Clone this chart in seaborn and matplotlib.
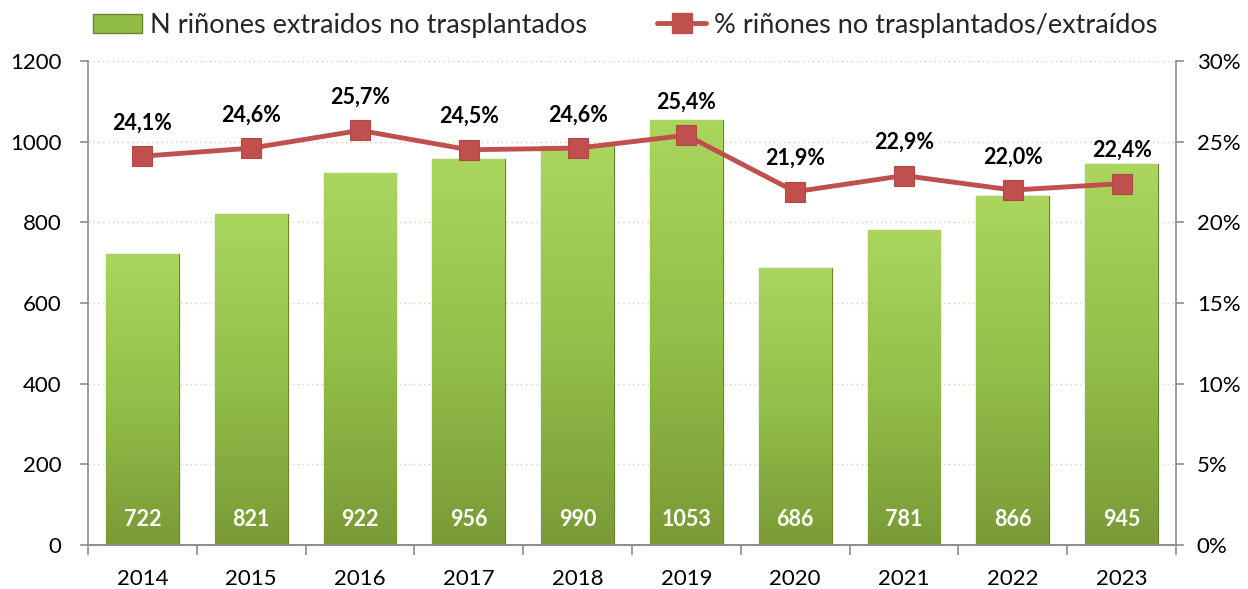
import matplotlib
matplotlib.use("Agg")
import matplotlib.pyplot as plt
import matplotlib.colors as mcolors
from matplotlib.lines import Line2D
from matplotlib.patches import Patch
import numpy as np
import pandas as pd
import seaborn as sns

years = ["2014", "2015", "2016", "2017", "2018", "2019", "2020", "2021", "2022", "2023"]
kidneys = [722, 821, 922, 956, 990, 1053, 686, 781, 866, 945]
pct = [24.1, 24.6, 25.7, 24.5, 24.6, 25.4, 21.9, 22.9, 22.0, 22.4]
bar_label = "N riñones extraidos no trasplantados"
line_label = "% riñones no trasplantados/extraídos"

sns.set_theme(style="white")
plt.rcParams["font.family"] = ["Lato", "DejaVu Sans"]

df = pd.DataFrame({"year": years, "n": kidneys, "pct": pct})

fig = plt.figure(figsize=(12.48, 5.89), dpi=100)
ax = fig.add_axes([0.0705, 0.0747, 0.8718, 0.8217])

bar_color = "#92bd45"
edge_color = "#6a8530"
sns.barplot(data=df, x="year", y="n", ax=ax, color=bar_color, width=0.67,
            edgecolor=edge_color, linewidth=0.9, saturation=1, zorder=2)

# vertical gradient fill for bars
cmap = mcolors.LinearSegmentedColormap.from_list("g", ["#7a9a36", "#93bf4a", "#aad65e"])
grad = np.linspace(0, 1, 256).reshape(-1, 1)
for p in ax.patches:
    x0, y0 = p.get_x(), p.get_y()
    w, h = p.get_width(), p.get_height()
    im = ax.imshow(grad, cmap=cmap, aspect="auto", origin="lower",
                   extent=[x0, x0 + w, y0, y0 + h], zorder=2.1)
    im.set_clip_path(p)

ax.set_xlim(-0.5, len(years) - 0.5)
ax.set_ylim(0, 1200)
ax.set_yticks(range(0, 1201, 200))
ax.set_xlabel("")
ax.set_ylabel("")
ax.yaxis.grid(True, linestyle=(0, (1, 2.5)), color="#d6d0aa", linewidth=1.0, zorder=0)
ax.set_axisbelow(True)

for i, v in enumerate(kidneys):
    ax.text(i, 62, f"{v}", ha="center", va="center", color="white",
            fontsize=15.5, fontweight="bold", zorder=5)

ax2 = ax.twinx()
sns.lineplot(x=np.arange(len(years)), y=pct, ax=ax2, color="#c0504d", linewidth=3.5,
             marker="s", markersize=14, markeredgecolor="#b54743", markeredgewidth=0.8,
             zorder=4)
ax2.set_ylim(0, 30)
ax2.set_yticks(range(0, 31, 5))
ax2.set_yticklabels([f"{t}%" for t in range(0, 31, 5)])
ax2.set_ylabel("")
for i, v in enumerate(pct):
    ax2.annotate(f"{v:.1f}".replace(".", ",") + "%", (i, v), xytext=(0, 24),
                 textcoords="offset points", ha="center", va="center",
                 fontsize=15.5, fontweight="bold", color="black")

spine_c = "#8c8c8c"
for a in (ax, ax2):
    a.spines["top"].set_visible(False)
    for s in ("left", "right", "bottom"):
        a.spines[s].set_color(spine_c)
        a.spines[s].set_linewidth(1.2)
ax.spines["right"].set_visible(False)
ax2.spines["left"].set_visible(False)

ax.tick_params(axis="y", which="major", direction="out", length=6, color=spine_c,
               width=1.2, labelsize=16, labelcolor="black", left=True, pad=13)
ax2.tick_params(axis="y", which="major", direction="out", length=6, color=spine_c,
                width=1.2, labelsize=16, labelcolor="black", right=True, pad=9)
ax.tick_params(axis="x", which="major", length=0, labelsize=16, labelcolor="black", pad=17)
ax.set_xticks(np.arange(-0.5, len(years), 1.0), minor=True)
ax.tick_params(axis="x", which="minor", direction="out", length=7, color=spine_c,
               width=1.2, bottom=True)

handles = [Patch(facecolor=bar_color, edgecolor=edge_color, label=bar_label),
           Line2D([0], [0], color="#c0504d", linewidth=3.5, marker="s", markersize=14,
                  label=line_label)]
fig.legend(handles=handles, loc="upper left", bbox_to_anchor=(0.055, 1.02), ncol=2,
           frameon=False, fontsize=19.5, handlelength=1.8, handletextpad=0.3,
           columnspacing=2.6)

fig.savefig("out.png", dpi=100)
